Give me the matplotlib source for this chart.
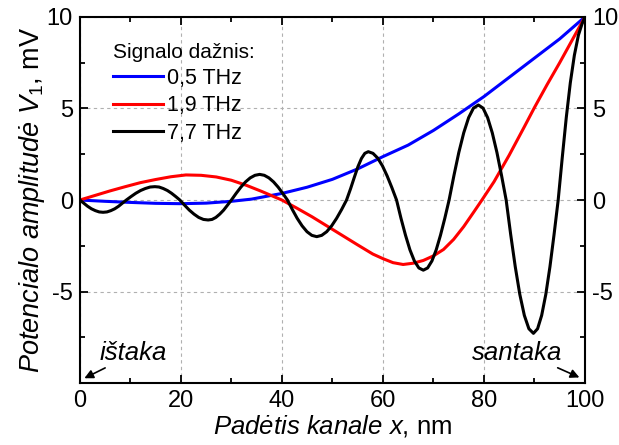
import matplotlib
matplotlib.use('Agg')
import matplotlib.pyplot as plt
from matplotlib.ticker import MultipleLocator, FixedLocator

plt.rcParams['font.family'] = ['Liberation Sans', 'DejaVu Sans']
plt.rcParams['mathtext.fontset'] = 'custom'
plt.rcParams['mathtext.rm'] = 'Liberation Sans'
plt.rcParams['mathtext.it'] = 'Liberation Sans:italic'
plt.rcParams['axes.unicode_minus'] = False

# 0,5 THz
x_blue = [0, 5, 10, 15, 20, 25, 30, 34, 40, 45, 50, 55, 60, 65, 70, 75, 80, 85, 90, 95, 100]
y_blue = [0, -0.07, -0.13, -0.18, -0.2, -0.17, -0.07, 0.05, 0.36, 0.7, 1.13, 1.7, 2.37, 3.0, 3.8, 4.7, 5.65, 6.7, 7.75, 8.8, 10]

# 1,9 THz
x_red = [0, 3, 6, 9, 12, 15, 18, 21, 24, 27, 30, 33, 36, 40, 43, 46, 50, 55, 58, 60, 62, 64, 66, 68,
         70, 72, 74, 76, 78, 79.6, 82, 85, 88, 90, 92.5, 95, 97.5, 100]
y_red = [0, 0.25, 0.5, 0.73, 0.95, 1.12, 1.27, 1.37, 1.35, 1.26, 1.08, 0.8, 0.47, 0.0, -0.45, -0.92, -1.6,
         -2.45, -2.95, -3.2, -3.42, -3.52, -3.45, -3.3, -3.05, -2.7, -2.15, -1.45, -0.65, 0.0, 1.0, 2.45,
         4.0, 5.05, 6.3, 7.5, 8.75, 10]

# 7,7 THz
x_black = [0, 0.77, 1.53, 2.3, 3.07, 3.83, 4.6, 5.37, 6.13, 6.9, 7.67, 8.43, 9.2,
           10.14, 11.08, 12.03, 12.97, 13.91, 14.85, 15.68, 16.5, 17.33, 18.15, 18.98, 19.8,
           20.73, 21.67, 22.6, 23.53, 24.47, 25.4, 26.17, 26.93, 27.7, 28.47, 29.23, 30,
           30.93, 31.87, 32.8, 33.73, 34.67, 35.6, 36.52, 37.43, 38.35, 39.27, 40.18, 41.1,
           42.07, 43.03, 44.0, 44.97, 45.93, 46.9, 47.88, 48.87, 49.85, 50.83, 51.82, 52.8,
           53.6, 54.35, 55.05, 55.75, 56.42, 57.1, 58.03, 58.97, 59.9, 60.83, 61.77, 62.7,
           63.58, 64.47, 65.35, 66.23, 67.12, 68, 68.85, 69.7, 70.55, 71.4, 72.25, 73.1,
           74.07, 75.03, 76.0, 76.97, 77.93, 78.9, 79.82, 80.73, 81.65, 82.57, 83.48, 84.4,
           85.3, 86.2, 87.1, 88.0, 88.9, 89.8, 90.62, 91.43, 92.25, 93.07, 93.88, 94.7,
           95.5, 96.3, 97.1, 97.9, 98.7, 99.4, 100]
y_black = [0, -0.17, -0.34, -0.48, -0.58, -0.65, -0.67, -0.65, -0.58, -0.48, -0.34, -0.17, 0,
           0.19, 0.37, 0.52, 0.63, 0.71, 0.73, 0.71, 0.63, 0.52, 0.37, 0.19, 0,
           -0.28, -0.55, -0.77, -0.95, -1.06, -1.09, -1.06, -0.95, -0.77, -0.55, -0.28, 0,
           0.36, 0.7, 0.99, 1.21, 1.35, 1.4, 1.35, 1.21, 0.99, 0.7, 0.36, 0,
           -0.52, -1.0, -1.41, -1.73, -1.93, -2.0, -1.93, -1.73, -1.41, -1.0, -0.52, 0,
           0.62, 1.25, 1.82, 2.27, 2.55, 2.64, 2.55, 2.29, 1.87, 1.32, 0.68, 0,
           -1.0, -1.92, -2.72, -3.33, -3.71, -3.83, -3.71, -3.33, -2.72, -1.92, -1.0, 0,
           1.35, 2.6, 3.67, 4.5, 5.02, 5.19, 5.02, 4.5, 3.67, 2.6, 1.35, 0,
           -1.89, -3.64, -5.15, -6.3, -7.03, -7.28, -7.03, -6.3, -5.15, -3.64, -1.89, 0,
           2.3, 4.5, 6.4, 7.9, 9.0, 9.6, 10]

labels = ['0,5 THz', '1,9 THz', '7,7 THz']

fig = plt.figure(figsize=(6.19, 4.45), dpi=100)
ax = fig.add_axes([0.129, 0.139, 0.816, 0.823])

ax.plot(x_blue, y_blue, color='#0000ff', lw=2.2, label=labels[0])
ax.plot(x_red, y_red, color='#ff0000', lw=2.2, label=labels[1])
ax.plot(x_black, y_black, color='black', lw=2.2, label=labels[2])

ax.set_xlim(0, 100)
ax.set_ylim(-10, 10)
ax.xaxis.set_major_locator(MultipleLocator(20))
ax.xaxis.set_minor_locator(MultipleLocator(10))
ax.yaxis.set_major_locator(FixedLocator([-5, 0, 5, 10]))
ax.yaxis.set_minor_locator(FixedLocator([-7.5, -2.5, 2.5, 7.5]))
ax.tick_params(which='both', direction='in', top=True, right=True, labelright=True,
               width=1.3, labelsize=17)
ax.tick_params(which='major', length=6, pad=5)
ax.tick_params(which='minor', length=3.5)
for s in ax.spines.values():
    s.set_linewidth(1.5)
ax.grid(True, which='major', color='#b0b0b0', ls=(0, (3, 3)), lw=0.8)

ax.set_xlabel(r'$\mathit{Padėtis\ kanale\ x}$, nm', fontsize=18.5, labelpad=1)
ax.set_ylabel(r'$\mathit{Potencialo\ amplitudė\ V_1}$, mV', fontsize=19.5, labelpad=0)

leg = ax.legend(loc='upper left', bbox_to_anchor=(0.066, 0.93), frameon=False,
                title='Signalo dažnis:', fontsize=15.5, title_fontsize=15,
                handlelength=2.3, handletextpad=0.2, labelspacing=0.3, borderaxespad=0,
                borderpad=0)
leg._legend_box.align = 'left'

ax.annotate('', xy=(0.4, -9.8), xytext=(5.5, -9.1),
            arrowprops=dict(arrowstyle='-|>', color='black', lw=1.2, mutation_scale=13))
ax.text(4.0, -8.35, 'ištaka', fontsize=18.5, style='italic', ha='left', va='center')
ax.annotate('', xy=(99.4, -9.75), xytext=(94.1, -9.1),
            arrowprops=dict(arrowstyle='-|>', color='black', lw=1.2, mutation_scale=13))
ax.text(95.6, -8.35, 'santaka', fontsize=18.5, style='italic', ha='right', va='center')

fig.savefig('out.png', dpi=100)
